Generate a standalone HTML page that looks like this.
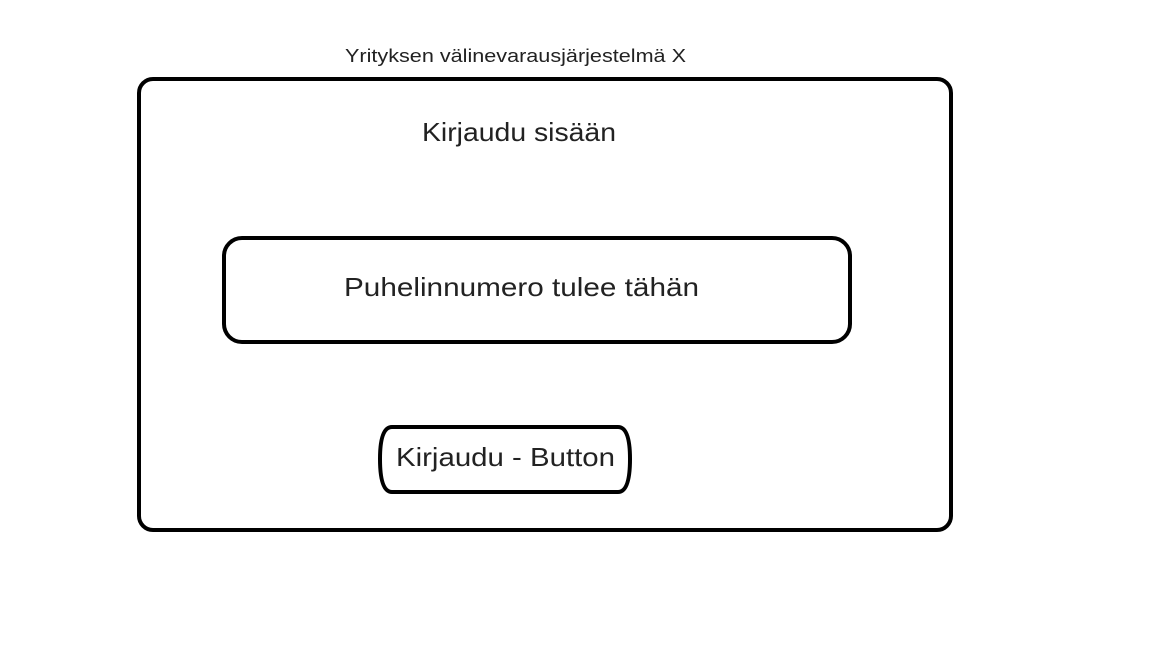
<!DOCTYPE html>
<html><head><meta charset="utf-8"><style>html,body{margin:0;padding:0;background:#fff;}svg{display:block}</style></head>
<body>
<svg width="1152" height="648" viewBox="0 0 1152 648" xmlns="http://www.w3.org/2000/svg" font-family="Liberation Sans, DejaVu Sans, sans-serif" fill="#222">
<rect width="1152" height="648" fill="#fff"/>
<text x="345" y="62" font-size="18" textLength="341" lengthAdjust="spacingAndGlyphs">Yrityksen välinevarausjärjestelmä X</text>
<rect x="139" y="79" width="812" height="451" rx="14" ry="14" fill="none" stroke="#000" stroke-width="4"/>
<text x="422" y="141" font-size="26" textLength="194" lengthAdjust="spacingAndGlyphs">Kirjaudu sisään</text>
<rect x="224" y="238" width="626" height="104" rx="18" ry="18" fill="none" stroke="#000" stroke-width="4"/>
<text x="344" y="296" font-size="26" textLength="355" lengthAdjust="spacingAndGlyphs">Puhelinnumero tulee tähän</text>
<path d="M392,427 H618 Q630,427 630,459 Q630,492 618,492 H392 Q380,492 380,459 Q380,427 392,427 Z" fill="none" stroke="#000" stroke-width="4"/>
<text x="396" y="466" font-size="26" textLength="219" lengthAdjust="spacingAndGlyphs">Kirjaudu - Button</text>
</svg>
</body></html>
